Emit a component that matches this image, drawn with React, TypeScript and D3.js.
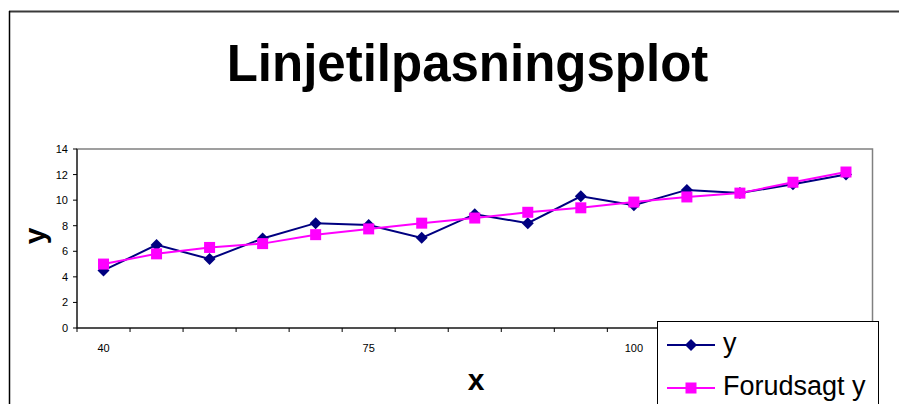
import React from "react";
import * as d3 from "d3";

// Observations (x categories) with observed and fitted y values
const xCategories = [40, 50, 55, 60, 70, 75, 80, 85, 90, 95, 100, 105, 110, 120, 130];
const yObserved = [4.5, 6.5, 5.4, 7.0, 8.2, 8.05, 7.05, 8.9, 8.2, 10.3, 9.6, 10.8, 10.55, 11.25, 12.0];
const yPredicted = [5.0, 5.8, 6.3, 6.6, 7.3, 7.75, 8.2, 8.6, 9.05, 9.4, 9.85, 10.25, 10.55, 11.4, 12.2];
const yTicks = [0, 2, 4, 6, 8, 10, 12, 14];
const labelEvery = 5;

const seriesNames = ["y", "Forudsagt y"];
const seriesColors = ["#000080", "#FF00FF"];

const W = 899;
const H = 404;
const FONT = "'Liberation Sans', Arial, Helvetica, sans-serif";

export default function App() {
  const plot = { left: 77, right: 872.5, top: 149, bottom: 328 };

  const x = d3
    .scaleBand<string>()
    .domain(xCategories.map((_, i) => String(i)))
    .range([plot.left, plot.right])
    .paddingInner(0)
    .paddingOuter(0);
  const cx = (i: number) => (x(String(i)) as number) + x.bandwidth() / 2;

  const y = d3.scaleLinear().domain([0, 14]).range([plot.bottom, plot.top]);

  const line = d3
    .line<number>()
    .x((_, i) => cx(i))
    .y((d) => y(d));

  const diamond = (px: number, py: number, r: number) =>
    `M${px},${py - r}L${px + r},${py}L${px},${py + r}L${px - r},${py}Z`;

  const sq = 11;
  const dr = 6;

  const tickEdges = d3.range(xCategories.length + 1).map((i) => plot.left + i * x.bandwidth());

  return (
    <svg
      width={W}
      height={H}
      style={{ position: "absolute", left: 0, top: 0, background: "#fff" }}
      fontFamily={FONT}
    >
      <rect x={0} y={0} width={W} height={H} fill="#fff" />
      {/* chart frame */}
      <line x1={9} x2={W} y1={11.5} y2={11.5} stroke="#3a3a3a" strokeWidth={2} />
      <line x1={9.5} x2={9.5} y1={11} y2={H} stroke="#000" strokeWidth={1.5} />

      {/* title */}
      <text x={467.5} y={81} textAnchor="middle" fontSize={51} fontWeight="bold" fill="#000">
        Linjetilpasningsplot
      </text>

      {/* plot area border */}
      <rect
        x={plot.left}
        y={plot.top}
        width={plot.right - plot.left}
        height={plot.bottom - plot.top}
        fill="none"
        stroke="#808080"
        strokeWidth={1.5}
      />
      {/* axes */}
      <line x1={plot.left} x2={plot.left} y1={plot.top} y2={plot.bottom} stroke="#000" strokeWidth={1} />
      <line x1={plot.left} x2={plot.right} y1={plot.bottom} y2={plot.bottom} stroke="#000" strokeWidth={1} />

      {yTicks.map((t) => (
        <g key={"yt" + t}>
          <line x1={plot.left - 4} x2={plot.left} y1={y(t)} y2={y(t)} stroke="#000" />
          <text x={plot.left - 9} y={y(t) + 4} textAnchor="end" fontSize={11} fill="#000">
            {t}
          </text>
        </g>
      ))}

      {tickEdges.map((tx, i) => (
        <line key={"xt" + i} x1={tx} x2={tx} y1={plot.bottom} y2={plot.bottom + 4} stroke="#000" />
      ))}
      {xCategories.map((c, i) =>
        i % labelEvery === 0 ? (
          <text key={"xl" + i} x={cx(i)} y={352} textAnchor="middle" fontSize={11} fill="#000">
            {c}
          </text>
        ) : null
      )}

      {/* axis titles */}
      <text x={476} y={390} textAnchor="middle" fontSize={30} fontWeight="bold" fill="#000">
        x
      </text>
      <text
        transform="translate(45,236) rotate(-90)"
        textAnchor="middle"
        fontSize={30}
        fontWeight="bold"
        fill="#000"
      >
        y
      </text>

      {/* observed series */}
      <path d={line(yObserved) || ""} fill="none" stroke={seriesColors[0]} strokeWidth={2} />
      {yObserved.map((v, i) => (
        <path key={"d" + i} d={diamond(cx(i), y(v), dr)} fill={seriesColors[0]} />
      ))}

      {/* fitted series */}
      <path d={line(yPredicted) || ""} fill="none" stroke={seriesColors[1]} strokeWidth={2} />
      {yPredicted.map((v, i) => (
        <rect key={"s" + i} x={cx(i) - sq / 2} y={y(v) - sq / 2} width={sq} height={sq} fill={seriesColors[1]} />
      ))}

      {/* legend */}
      <rect x={657.5} y={321.5} width={221} height={120} fill="#fff" stroke="#000" strokeWidth={1} />
      {seriesNames.map((name, i) => {
        const ly = 345 + i * 43;
        return (
          <g key={"lg" + i}>
            <line x1={667} x2={715} y1={ly} y2={ly} stroke={seriesColors[i]} strokeWidth={2} />
            {i === 0 ? (
              <path d={diamond(691, ly, dr)} fill={seriesColors[i]} />
            ) : (
              <rect x={691 - sq / 2} y={ly - sq / 2} width={sq} height={sq} fill={seriesColors[i]} />
            )}
            <text x={723} y={ly + 7} fontSize={27} fill="#000">
              {name}
            </text>
          </g>
        );
      })}
    </svg>
  );
}
